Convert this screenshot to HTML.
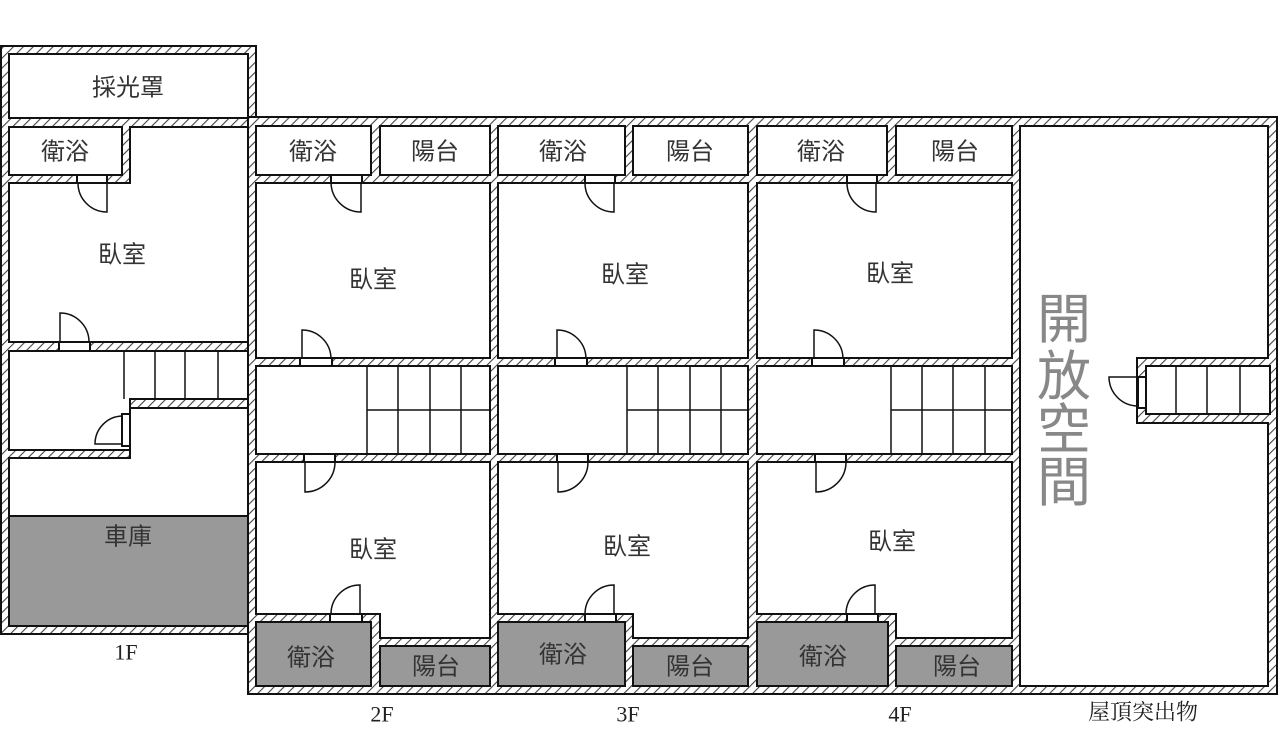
<!DOCTYPE html>
<html><head><meta charset="utf-8"><style>
html,body{margin:0;padding:0;background:#fff}
svg{display:block}
text{font-family:"Liberation Sans","Noto Sans CJK TC",sans-serif;font-size:24px;fill:#333;text-anchor:middle;dominant-baseline:central}
.s{font-family:"Liberation Serif","Noto Serif CJK SC",serif;fill:#222;font-size:22px}
.r{fill:#fff;stroke:#111;stroke-width:2}
.g{fill:#999;stroke:#111;stroke-width:2}
.l{stroke:#111;stroke-width:1.5;fill:none}
</style></head><body>
<svg width="1280" height="730" viewBox="0 0 1280 730" xmlns="http://www.w3.org/2000/svg">
<defs>
<pattern id="h" width="7" height="7" patternUnits="userSpaceOnUse" patternTransform="rotate(45)">
<rect width="7" height="7" fill="#fff"/><line x1="0" y1="0" x2="0" y2="7" stroke="#444" stroke-width="2.2"/>
</pattern>
</defs>
<!-- outer hatched shells -->
<rect x="1" y="46" width="255" height="588" fill="url(#h)" stroke="#111" stroke-width="2"/>
<rect x="248" y="117" width="1029" height="577" fill="url(#h)" stroke="#111" stroke-width="2"/>
<rect x="249" y="118" width="6" height="516" fill="url(#h)"/>

<!-- 1F -->
<rect class="r" x="9" y="54" width="239" height="64"/>
<rect class="r" x="9" y="127" width="113" height="48"/>
<polygon class="r" points="130,127 248,127 248,342 9,342 9,183 130,183"/>
<polygon class="r" points="9,351 248,351 248,399 130,399 130,450 9,450"/>
<polygon class="r" points="130,408 248,408 248,626 9,626 9,458 130,458"/>
<rect class="g" x="9" y="516" width="239" height="110"/>
<path class="l" d="M124 351V399M155 351V399M185 351V399M218 351V399"/>
<!-- 1F doors -->
<rect class="r" x="77" y="175" width="30" height="8"/><path class="l" d="M107 183V212A29 29 0 0 1 78 183"/>
<rect class="r" x="59" y="342" width="31" height="9"/><path class="l" d="M60 342V313A29 29 0 0 1 89 342"/>
<rect class="r" x="122" y="414" width="8" height="32"/><path class="l" d="M122 444H95A28 28 0 0 1 122 416"/>

<!-- floors 2F-4F -->
<g id="f2">
<rect class="r" x="256" y="126" width="115" height="49"/>
<rect class="r" x="380" y="126" width="110" height="49"/>
<rect class="r" x="256" y="183" width="234" height="175"/>
<rect class="r" x="256" y="366" width="234" height="88"/>
<polygon class="r" points="256,462 490,462 490,638 380,638 380,614 256,614"/>
<rect class="g" x="256" y="622" width="115" height="64"/>
<rect class="g" x="380" y="646" width="110" height="40"/>
<path class="l" d="M367 366V454M398 366V454M430 366V454M461 366V454M367 410H490"/>
<rect class="r" x="331" y="175" width="31" height="8"/><path class="l" d="M361 183V212A30 30 0 0 1 331 183"/>
<rect class="r" x="300" y="358" width="32" height="8"/><path class="l" d="M302 358V330A29 29 0 0 1 331 358"/>
<rect class="r" x="304" y="454" width="31" height="8"/><path class="l" d="M305 462V492A30 30 0 0 0 335 462"/>
<rect class="r" x="330" y="614" width="32" height="8"/><path class="l" d="M360 614V585A29 29 0 0 0 331 614"/>
</g>
<g>
<rect class="r" x="498" y="126" width="127" height="49"/>
<rect class="r" x="633" y="126" width="115" height="49"/>
<rect class="r" x="498" y="183" width="250" height="175"/>
<rect class="r" x="498" y="366" width="250" height="88"/>
<polygon class="r" points="498,462 748,462 748,638 633,638 633,614 498,614"/>
<rect class="g" x="498" y="622" width="127" height="64"/>
<rect class="g" x="633" y="646" width="115" height="40"/>
<path class="l" d="M627 366V454M658 366V454M690 366V454M721 366V454M627 410H748"/>
<rect class="r" x="585" y="175" width="30" height="8"/><path class="l" d="M614 183V212A29 29 0 0 1 585 183"/>
<rect class="r" x="555" y="358" width="32" height="8"/><path class="l" d="M557 358V330A29 29 0 0 1 586 358"/>
<rect class="r" x="557" y="454" width="31" height="8"/><path class="l" d="M558 462V492A30 30 0 0 0 588 462"/>
<rect class="r" x="585" y="614" width="31" height="8"/><path class="l" d="M614 614V585A29 29 0 0 0 585 614"/>
</g>
<g>
<rect class="r" x="757" y="126" width="130" height="49"/>
<rect class="r" x="896" y="126" width="116" height="49"/>
<rect class="r" x="757" y="183" width="255" height="175"/>
<rect class="r" x="757" y="366" width="255" height="88"/>
<polygon class="r" points="757,462 1012,462 1012,638 896,638 896,614 757,614"/>
<rect class="g" x="757" y="622" width="131" height="64"/>
<rect class="g" x="896" y="646" width="116" height="40"/>
<path class="l" d="M891 366V454M922 366V454M953 366V454M985 366V454M891 410H1012"/>
<rect class="r" x="847" y="175" width="30" height="8"/><path class="l" d="M876 183V212A29 29 0 0 1 847 183"/>
<rect class="r" x="812" y="358" width="32" height="8"/><path class="l" d="M814 358V330A29 29 0 0 1 843 358"/>
<rect class="r" x="815" y="454" width="31" height="8"/><path class="l" d="M816 462V492A30 30 0 0 0 846 462"/>
<rect class="r" x="847" y="614" width="31" height="8"/><path class="l" d="M875 614V585A29 29 0 0 0 846 614"/>
</g>

<!-- roof -->
<polygon class="r" points="1020,126 1268,126 1268,358 1137,358 1137,423 1268,423 1268,686 1020,686"/>
<rect x="1138" y="359" width="131" height="63" fill="url(#h)"/>
<rect class="r" x="1146" y="366" width="124" height="48"/>
<path class="l" d="M1176 366V414M1207 366V414M1240 366V414"/>
<rect class="r" x="1138" y="377" width="8" height="31"/><path class="l" d="M1138 377H1109A29 29 0 0 0 1138 406"/>

<!-- labels -->
<text x="128" y="88">採光罩</text>
<text x="65" y="152">衛浴</text>
<text x="122" y="255">臥室</text>
<text x="128" y="537">車庫</text>
<text x="313" y="152">衛浴</text><text x="435" y="152">陽台</text>
<text x="563" y="152">衛浴</text><text x="690" y="152">陽台</text>
<text x="821" y="152">衛浴</text><text x="955" y="152">陽台</text>
<text x="373" y="280">臥室</text><text x="625" y="275">臥室</text><text x="890" y="274">臥室</text>
<text x="373" y="550">臥室</text><text x="627" y="547">臥室</text><text x="892" y="542">臥室</text>
<text x="311" y="658">衛浴</text><text x="436" y="667">陽台</text>
<text x="563" y="655">衛浴</text><text x="690" y="667">陽台</text>
<text x="823" y="657">衛浴</text><text x="957" y="667">陽台</text>
<g style="font-size:54px">
<text x="1064" y="320" style="font-size:54px;fill:#888">開</text>
<text x="1064" y="377" style="font-size:54px;fill:#888">放</text>
<text x="1064" y="430" style="font-size:54px;fill:#888">空</text>
<text x="1064" y="483" style="font-size:54px;fill:#888">間</text>
</g>
<text class="s" x="126" y="652">1F</text>
<text class="s" x="382" y="714">2F</text>
<text class="s" x="628" y="714">3F</text>
<text class="s" x="900" y="714">4F</text>
<text class="s" x="1143" y="712">屋頂突出物</text>
</svg>
</body></html>
